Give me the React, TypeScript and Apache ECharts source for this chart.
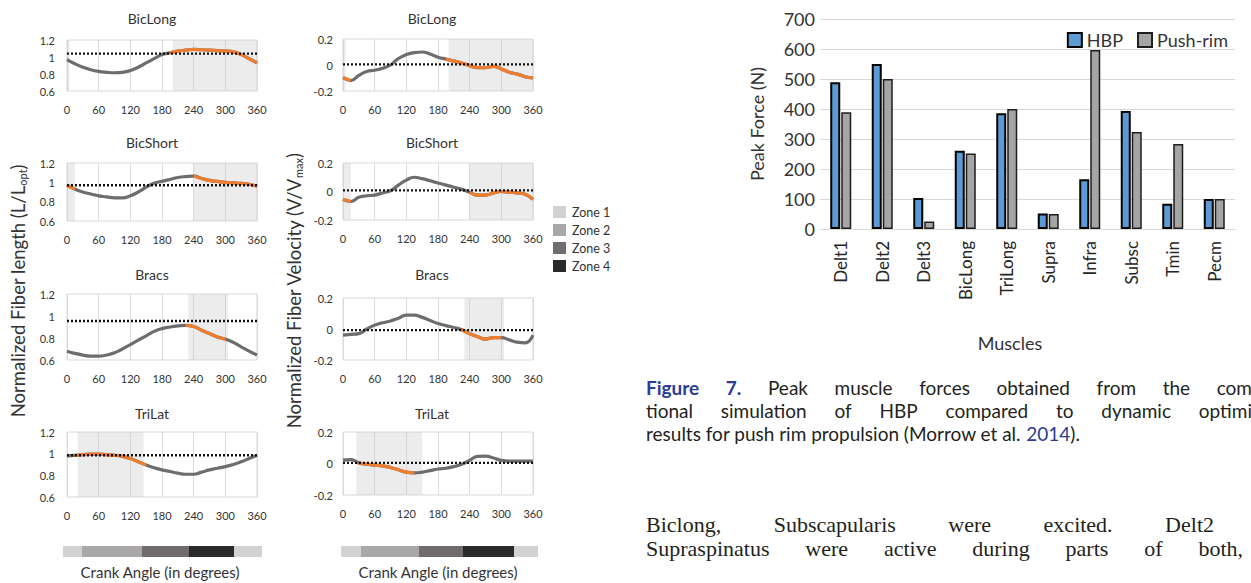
import React, { useEffect, useRef } from "react";
import * as echarts from "echarts";

// ---------- data ----------
const angles = [0, 15, 30, 45, 60, 75, 90, 105, 120, 135, 150, 165, 180, 195, 210, 225, 240, 255, 270, 285, 300, 315, 330, 345, 360];
const muscleTitles = ["BicLong", "BicShort", "Bracs", "TriLat"];

const lenBicLong = [0.97, 0.92, 0.88, 0.85, 0.83, 0.82, 0.815, 0.82, 0.84, 0.88, 0.93, 0.98, 1.03, 1.05, 1.07, 1.08, 1.09, 1.085, 1.08, 1.075, 1.07, 1.06, 1.03, 0.98, 0.93];
const lenBicShort = [0.97, 0.93, 0.9, 0.88, 0.86, 0.85, 0.84, 0.84, 0.86, 0.9, 0.95, 0.99, 1.01, 1.03, 1.05, 1.06, 1.065, 1.04, 1.02, 1.01, 1.0, 0.995, 0.99, 0.98, 0.96];
const lenBracs = [0.68, 0.66, 0.645, 0.635, 0.635, 0.645, 0.665, 0.7, 0.74, 0.78, 0.82, 0.86, 0.885, 0.9, 0.91, 0.915, 0.905, 0.87, 0.84, 0.81, 0.79, 0.76, 0.72, 0.68, 0.645];
const lenTriLat = [0.98, 0.985, 0.99, 0.995, 0.995, 0.99, 0.985, 0.975, 0.955, 0.925, 0.895, 0.87, 0.85, 0.835, 0.82, 0.81, 0.81, 0.83, 0.85, 0.865, 0.88, 0.9, 0.925, 0.955, 0.985];

const velBicLong = [-0.096, -0.12, -0.08, -0.05, -0.04, -0.025, 0.0, 0.05, 0.08, 0.095, 0.1, 0.085, 0.06, 0.045, 0.03, 0.015, -0.005, -0.02, -0.02, -0.01, -0.03, -0.055, -0.07, -0.09, -0.1];
const velBicShort = [-0.055, -0.07, -0.04, -0.03, -0.025, -0.01, 0.005, 0.045, 0.08, 0.1, 0.09, 0.075, 0.06, 0.045, 0.03, 0.015, -0.005, -0.025, -0.025, -0.01, 0.0, -0.005, -0.01, -0.02, -0.055];
const velBracs = [-0.04, -0.035, -0.03, 0.0, 0.025, 0.04, 0.052, 0.07, 0.089, 0.089, 0.075, 0.055, 0.036, 0.022, 0.01, -0.005, -0.03, -0.05, -0.065, -0.055, -0.055, -0.07, -0.085, -0.09, -0.04];
const velTriLat = [0.021, 0.025, 0.004, -0.005, -0.01, -0.015, -0.025, -0.04, -0.055, -0.06, -0.055, -0.045, -0.035, -0.03, -0.02, -0.005, 0.02, 0.045, 0.047, 0.035, 0.02, 0.015, 0.015, 0.015, 0.015];

const lengthSeries = [lenBicLong, lenBicShort, lenBracs, lenTriLat];
const velocitySeries = [velBicLong, velBicShort, velBracs, velTriLat];
const lengthRefs = [1.04, 0.97, 0.955, 0.985];
const velocityRefs = [0.005, 0.008, -0.007, 0.004];

const lengthZones = [[[0, 5], [200, 360]], [[0, 15], [240, 360]], [[230, 305]], [[20, 145]]];
const velocityZones = [[[0, 5], [200, 360]], [[0, 15], [240, 360]], [[230, 305]], [[25, 150]]];
const lengthOrange = [[[195, 360]], [[0, 15], [240, 360]], [[225, 300]], [[15, 150]]];
const velocityOrange = [[[0, 15], [195, 360]], [[0, 15], [240, 360]], [[225, 300]], [[30, 135]]];

const zoneNames = ["Zone 1", "Zone 2", "Zone 3", "Zone 4"];
const zoneColors = ["#d2d2d2", "#a9a7a9", "#6f6b6f", "#2b2a2b"];
const zoneStripOrder = [0, 1, 2, 3, 0];
const leftStripWidths = [19, 60, 47, 45, 28];
const rightStripWidths = [20, 58, 44, 51, 24];

const barCategories = ["Delt1", "Delt2", "Delt3", "BicLong", "TriLong", "Supra", "Infra", "Subsc", "Tmin", "Pecm"];
const hbpForce = [489, 550, 103, 261, 386, 52, 166, 393, 84, 100];
const pushRimForce = [389, 500, 25, 252, 400, 50, 597, 323, 283, 100];

// ---------- layout ----------
const LEFT_X = 67;
const RIGHT_X = 343;
const PLOT_W = 190;
const lenTops = [40, 163, 294, 432];
const lenHeights = [51, 58, 66, 65];
const velTops = [39, 163, 298, 432];
const velHeights = [52, 57, 62, 63];
const titleYs = [18, 142, 274, 413];
const SMALL_FONT = "Lato, 'Open Sans', sans-serif";
const CAP_FONT = "Lato, 'Open Sans', sans-serif";
const BODY_FONT = "'Liberation Serif', 'DejaVu Serif', serif";

let measureCtx: CanvasRenderingContext2D | null = null;
function textWidth(t: string, font: string) {
  if (!measureCtx) measureCtx = document.createElement("canvas").getContext("2d");
  measureCtx!.font = font;
  return measureCtx!.measureText(t).width;
}

type Word = { t: string; bold?: boolean; color?: string };
function justified(words: Word[], x0: number, x1: number, y: number, size: number, family: string, baseColor: string) {
  const widths = words.map((w) => textWidth(w.t, `${w.bold ? "bold " : ""}${size}px ${family}`));
  const total = widths.reduce((a, b) => a + b, 0);
  const gap = (x1 - x0 - total) / (words.length - 1);
  let x = x0;
  return words.map((w, i) => {
    const el = {
      type: "text",
      x,
      y,
      silent: true,
      style: {
        text: w.t,
        fontSize: size,
        fontFamily: family,
        fontWeight: w.bold ? "bold" : "normal",
        fill: w.color || baseColor,
        verticalAlign: "middle",
      },
    };
    x += widths[i] + gap;
    return el;
  });
}

function buildOption() {
  const grids: any[] = [];
  const xAxes: any[] = [];
  const yAxes: any[] = [];
  const series: any[] = [];
  const graphics: any[] = [];

  const addSmall = (
    col: number,
    row: number,
    data: number[],
    ref: number,
    zones: number[][],
    orange: number[][],
    yMin: number,
    yMax: number
  ) => {
    const idx = grids.length;
    const left = col === 0 ? LEFT_X : RIGHT_X;
    const top = col === 0 ? lenTops[row] : velTops[row];
    const height = col === 0 ? lenHeights[row] : velHeights[row];
    grids.push({ left, top, width: PLOT_W, height, show: true, borderColor: "#d9d9d9", borderWidth: 1, backgroundColor: "#fff" });
    xAxes.push({
      gridIndex: idx,
      type: "value",
      min: 0,
      max: 360,
      interval: 60,
      axisLine: { show: false },
      axisTick: { show: false },
      splitLine: { show: true, lineStyle: { color: "#dcdcdc", width: 1 } },
      axisLabel: { fontSize: 11, color: "#333", margin: 13, fontFamily: SMALL_FONT },
    });
    yAxes.push({
      gridIndex: idx,
      type: "value",
      min: yMin,
      max: yMax,
      interval: 0.2,
      axisLine: { show: false },
      axisTick: { show: false },
      splitLine: { show: false },
      axisLabel: { fontSize: 11, color: "#333", margin: col === 0 ? 12 : 10, fontFamily: SMALL_FONT },
    });
    const pts = angles.map((a, i) => [a, data[i]]);
    const orangePts = angles.map((a, i) => (orange.some(([s, e]) => a >= s && a <= e) ? [a, data[i]] : [a, null]));
    series.push({
      type: "line",
      xAxisIndex: idx,
      yAxisIndex: idx,
      data: pts,
      smooth: true,
      symbol: "none",
      lineStyle: { color: "#6d6d6d", width: 3.2 },
      z: 3,
      markArea: {
        silent: true,
        itemStyle: { color: "rgba(205,205,205,0.38)" },
        data: zones.map(([s, e]) => [{ xAxis: s }, { xAxis: e }]),
      },
    });
    series.push({
      type: "line",
      xAxisIndex: idx,
      yAxisIndex: idx,
      data: orangePts,
      smooth: true,
      connectNulls: false,
      symbol: "none",
      lineStyle: { color: "#ed7d31", width: 3.2 },
      z: 4,
    });
    series.push({
      type: "line",
      xAxisIndex: idx,
      yAxisIndex: idx,
      data: [
        [0, ref],
        [360, ref],
      ],
      symbol: "none",
      lineStyle: { color: "#111", width: 2.4, type: [2, 2] },
      z: 5,
    });
    graphics.push({
      type: "text",
      x: col === 0 ? 152 : 432,
      y: titleYs[row],
      silent: true,
      style: { text: muscleTitles[row], fontSize: 14, fontFamily: SMALL_FONT, fill: "#333", align: "center", verticalAlign: "middle" },
    });
  };

  for (let r = 0; r < 4; r++) {
    addSmall(0, r, lengthSeries[r], lengthRefs[r], lengthZones[r], lengthOrange[r], 0.6, 1.2);
  }
  for (let r = 0; r < 4; r++) {
    addSmall(1, r, velocitySeries[r], velocityRefs[r], velocityZones[r], velocityOrange[r], -0.2, 0.2);
  }

  // bar chart
  const bIdx = grids.length;
  grids.push({ left: 820, top: 19, right: 16, height: 210 });
  xAxes.push({
    gridIndex: bIdx,
    type: "category",
    data: barCategories,
    axisTick: { show: false },
    axisLine: { show: true, lineStyle: { color: "#d9d9d9", width: 1 } },
    axisLabel: { rotate: 90, fontSize: 17, color: "#262626", margin: 12, fontFamily: SMALL_FONT },
  });
  yAxes.push({
    gridIndex: bIdx,
    type: "value",
    min: 0,
    max: 700,
    interval: 100,
    axisLine: { show: false },
    axisTick: { show: false },
    splitLine: { show: true, lineStyle: { color: "#d9d9d9", width: 1 } },
    axisLabel: { fontSize: 18, color: "#333", margin: 5, fontFamily: SMALL_FONT },
  });
  series.push({
    name: "HBP",
    type: "bar",
    xAxisIndex: bIdx,
    yAxisIndex: bIdx,
    data: hbpForce,
    barWidth: 10,
    barGap: "10%",
    itemStyle: { color: "#5b9bd5", borderColor: "#000", borderWidth: 2 },
  });
  series.push({
    name: "Push-rim",
    type: "bar",
    xAxisIndex: bIdx,
    yAxisIndex: bIdx,
    data: pushRimForce,
    barWidth: 10,
    itemStyle: { color: "#a5a5a5", borderColor: "#1e1e1e", borderWidth: 1.5 },
  });

  // axis titles
  graphics.push({
    type: "text",
    x: 757,
    y: 124,
    rotation: Math.PI / 2,
    silent: true,
    style: { text: "Peak Force (N)", fontSize: 18, fontFamily: SMALL_FONT, fill: "#333", align: "center", verticalAlign: "middle" },
  });
  graphics.push({
    type: "text",
    x: 1010,
    y: 343,
    silent: true,
    style: { text: "Muscles", fontSize: 18, fontFamily: SMALL_FONT, fill: "#333", align: "center", verticalAlign: "middle" },
  });
  const yTitle = (x: number, main: string, sub: string) => ({
    type: "text",
    x,
    y: 291,
    rotation: Math.PI / 2,
    silent: true,
    style: {
      text: `{m|${main}}{s|${sub}}{m|)}`,
      align: "center",
      verticalAlign: "middle",
      fill: "#333",
      rich: {
        m: { fontSize: 18.5, fontFamily: SMALL_FONT, fill: "#333", height: 22, verticalAlign: "middle" },
        s: { fontSize: 11, fontFamily: SMALL_FONT, fill: "#333", height: 22, verticalAlign: "bottom", padding: [9, 0, 0, 0] },
      },
    },
  });
  graphics.push(yTitle(18, "Normalized Fiber length (L/L", "opt"));
  graphics.push(yTitle(294, "Normalized Fiber Velocity (V/V", "max"));

  // zone strips
  const strip = (x0: number, widths: number[]) => {
    let x = x0;
    widths.forEach((w, i) => {
      graphics.push({ type: "rect", silent: true, shape: { x, y: 546, width: w, height: 11 }, style: { fill: zoneColors[zoneStripOrder[i]] } });
      x += w;
    });
  };
  strip(63, leftStripWidths);
  strip(341, rightStripWidths);
  [160, 438].forEach((cx) =>
    graphics.push({
      type: "text",
      x: cx,
      y: 572,
      silent: true,
      style: { text: "Crank Angle (in degrees)", fontSize: 15, fontFamily: SMALL_FONT, fill: "#333", align: "center", verticalAlign: "middle" },
    })
  );

  // zone legend
  zoneNames.forEach((n, i) => {
    graphics.push({ type: "rect", silent: true, shape: { x: 553, y: 206 + i * 18, width: 13, height: 12 }, style: { fill: zoneColors[i] } });
    graphics.push({
      type: "text",
      x: 572,
      y: 212 + i * 18,
      silent: true,
      style: { text: n, fontSize: 12.5, fontFamily: SMALL_FONT, fill: "#333", verticalAlign: "middle" },
    });
  });

  // caption
  const capSize = 19;
  const blue = "#2b3c96";
  const capColor = "#231f20";
  const X0 = 646;
  graphics.push(
    ...justified(
      [
        { t: "Figure", bold: true, color: blue },
        { t: "7.", bold: true, color: blue },
        { t: "Peak" },
        { t: "muscle" },
        { t: "forces" },
        { t: "obtained" },
        { t: "from" },
        { t: "the" },
        { t: "com" },
      ],
      X0,
      1252,
      387,
      capSize,
      CAP_FONT,
      capColor
    )
  );
  graphics.push(
    ...justified(
      [
        { t: "tional" },
        { t: "simulation" },
        { t: "of" },
        { t: "HBP" },
        { t: "compared" },
        { t: "to" },
        { t: "dynamic" },
        { t: "optimi" },
      ],
      X0,
      1252,
      410,
      capSize,
      CAP_FONT,
      capColor
    )
  );
  graphics.push({
    type: "text",
    x: X0,
    y: 433,
    silent: true,
    style: {
      text: "results for push rim propulsion (Morrow et al. {b|2014}).",
      fontSize: capSize,
      fontFamily: CAP_FONT,
      fill: capColor,
      verticalAlign: "middle",
      rich: { b: { fontSize: capSize, fontFamily: CAP_FONT, fill: blue } },
    },
  });

  // body text
  graphics.push(
    ...justified(
      [{ t: "Biclong," }, { t: "Subscapularis" }, { t: "were" }, { t: "excited." }, { t: "Delt2" }],
      X0,
      1214,
      524,
      22,
      BODY_FONT,
      "#231f20"
    )
  );
  graphics.push(
    ...justified(
      [{ t: "Supraspinatus" }, { t: "were" }, { t: "active" }, { t: "during" }, { t: "parts" }, { t: "of" }, { t: "both," }],
      X0,
      1243,
      548,
      22,
      BODY_FONT,
      "#231f20"
    )
  );

  return {
    animation: false,
    backgroundColor: "#fff",
    grid: grids,
    xAxis: xAxes,
    yAxis: yAxes,
    series,
    legend: {
      data: ["HBP", "Push-rim"],
      right: 18,
      top: 26,
      icon: "rect",
      itemWidth: 14,
      itemHeight: 14,
      itemGap: 14,
      textStyle: { fontSize: 18, color: "#333", fontFamily: SMALL_FONT },
    },
    graphic: graphics,
  };
}

export default function App() {
  const ref = useRef<HTMLDivElement>(null);
  useEffect(() => {
    if (!ref.current) return;
    const chart = echarts.init(ref.current, undefined, { renderer: "svg" });
    chart.setOption(buildOption() as any);
    return () => chart.dispose();
  }, []);
  return (
    <div style={{ position: "fixed", left: 0, top: 0, width: 1251, height: 583, overflow: "hidden", background: "#fff" }}>
      <div ref={ref} style={{ width: 1251, height: 583 }} />
    </div>
  );
}
